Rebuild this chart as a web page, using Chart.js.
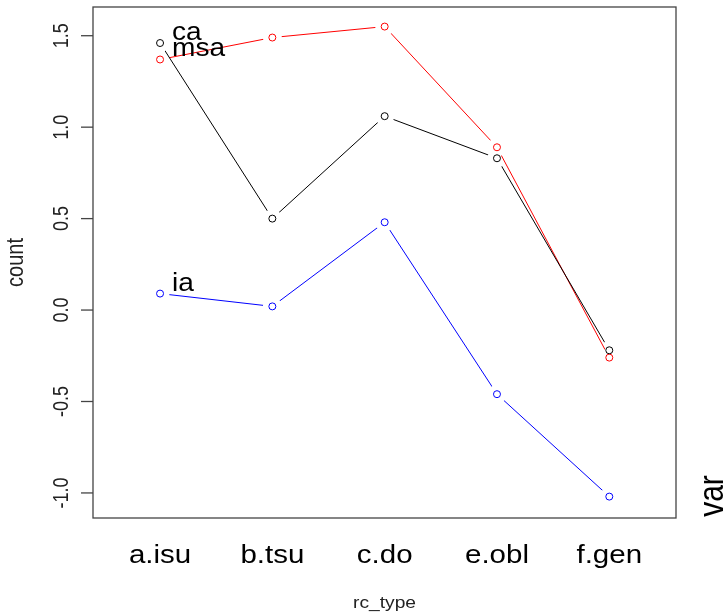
<!DOCTYPE html>
<html>
<head>
<meta charset="utf-8">
<script src="https://cdn.jsdelivr.net/npm/chart.js@4/dist/chart.umd.min.js"></script>
<style>
  html, body { margin: 0; padding: 0; background: #fff; }
  canvas { display: block; }
</style>
</head>
<body>
<canvas id="chart" width="724" height="616"></canvas>
<script>
// data
const categories = ['a.isu', 'b.tsu', 'c.do', 'e.obl', 'f.gen'];
const seriesNames = ['ca', 'msa', 'ia'];
const caValues = [1.46, 0.50, 1.06, 0.83, -0.22];
const msaValues = [1.37, 1.49, 1.55, 0.89, -0.26];
const iaValues = [0.09, 0.02, 0.48, -0.46, -1.02];
const yTicks = [-1.0, -0.5, 0.0, 0.5, 1.0, 1.5];

const colors = ['#000000', '#ff0000', '#0000ff'];
const allValues = [caValues, msaValues, iaValues];

const toPoints = vals => vals.map((v, i) => ({ x: i + 1, y: v }));

const datasets = [];
allValues.forEach((vals, k) => {
    // line only, cut short around its own points (type = "b")
    datasets.push({
        label: seriesNames[k],
        data: toPoints(vals),
        borderColor: colors[k],
        borderWidth: 1,
        pointRadius: 0,
        fill: false,
        tension: 0,
        order: 2,
        gapLine: true
    });
    // open circles
    datasets.push({
        data: toPoints(vals),
        showLine: false,
        pointRadius: 3.5,
        pointBorderWidth: 1,
        pointBackgroundColor: 'rgba(0,0,0,0)',
        pointBorderColor: colors[k],
        order: 1
    });
});

const gapPlugin = {
    id: 'gapPlugin',
    beforeDatasetDraw(chart, args) {
        const ds = chart.data.datasets[args.index];
        if (!ds.gapLine) return;
        const ctx = chart.ctx;
        ctx.save();
        ctx.beginPath();
        ctx.rect(0, 0, chart.width, chart.height);
        args.meta.data.forEach(p => {
            ctx.moveTo(p.x + 9.5, p.y);
            ctx.arc(p.x, p.y, 9.5, 0, Math.PI * 2, true);
        });
        ctx.clip('evenodd');
    },
    afterDatasetDraw(chart, args) {
        const ds = chart.data.datasets[args.index];
        if (!ds.gapLine) return;
        chart.ctx.restore();
    }
};

const FONT = '"Liberation Sans", Arial, sans-serif';

// the original picture is a bit wider than tall, so text is stretched sideways
function putText(ctx, txt, x, y, size, sx, rot, align, base) {
    ctx.save();
    ctx.translate(x, y);
    ctx.scale(sx, 1);
    if (rot) ctx.rotate(rot);
    ctx.font = size + 'px ' + FONT;
    ctx.textAlign = align;
    ctx.textBaseline = base;
    ctx.fillText(txt, 0, 0);
    ctx.restore();
}

const rStyle = {
    id: 'rStyle',
    afterDraw(chart) {
        const ctx = chart.ctx;
        const area = chart.chartArea;
        const xs = chart.scales.x;
        const ys = chart.scales.y;
        const up = -Math.PI / 2;
        ctx.save();

        // box
        ctx.strokeStyle = '#444';
        ctx.lineWidth = 1.3;
        ctx.strokeRect(area.left, area.top, area.right - area.left, area.bottom - area.top);

        // y ticks and rotated labels
        ctx.fillStyle = '#222';
        yTicks.forEach(t => {
            const py = ys.getPixelForValue(t);
            ctx.beginPath();
            ctx.moveTo(area.left - 12, py);
            ctx.lineTo(area.left, py);
            ctx.stroke();
            putText(ctx, t.toFixed(1), 67.5, py, 18, 1.18, up, 'center', 'alphabetic');
        });

        // x category labels
        ctx.fillStyle = '#000';
        categories.forEach((c, i) => {
            putText(ctx, c, xs.getPixelForValue(i + 1), 563, 25, 1.18, 0, 'center', 'alphabetic');
        });

        // axis titles
        ctx.fillStyle = '#222';
        putText(ctx, 'rc_type', (area.left + area.right) / 2, 608, 17, 1.13, 0, 'center', 'alphabetic');
        putText(ctx, 'count', 23, 262.5, 20, 1.18, up, 'center', 'alphabetic');

        // var title on the right
        ctx.fillStyle = '#000';
        putText(ctx, 'var', 722.5, 496, 30, 1.18, up, 'center', 'alphabetic');

        // series labels next to the first points
        seriesNames.forEach((n, k) => {
            const px = xs.getPixelForValue(1);
            const py = ys.getPixelForValue(allValues[k][0]);
            putText(ctx, n, px + 12, py - 3, 26, 1.08, 0, 'left', 'alphabetic');
        });

        ctx.restore();
    }
};

new Chart(document.getElementById('chart'), {
    type: 'line',
    data: { datasets: datasets },
    options: {
        responsive: false,
        devicePixelRatio: 1,
        animation: false,
        layout: { padding: { left: 93, top: 7, right: 48, bottom: 98 } },
        plugins: { legend: { display: false }, tooltip: { enabled: false } },
        scales: {
            x: { type: 'linear', min: 0.403, max: 5.594, display: false },
            y: { type: 'linear', min: -1.137, max: 1.657, display: false }
        }
    },
    plugins: [gapPlugin, rStyle]
});
</script>
</body>
</html>
